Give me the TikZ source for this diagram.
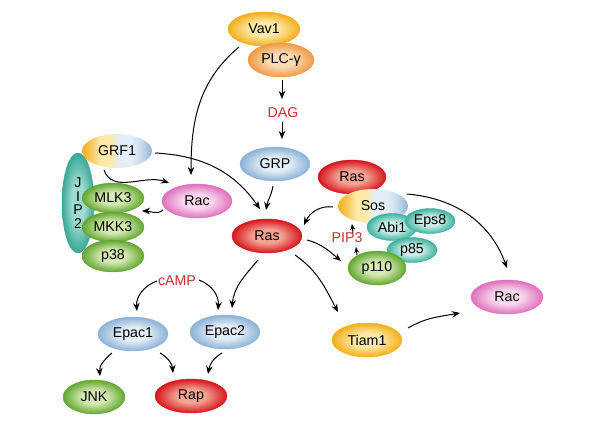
\documentclass[tikz,border=0pt]{standalone}
\usepackage{fontspec}
\setmainfont{Liberation Sans}
\usetikzlibrary{shapes.geometric,arrows.meta}
\definecolor{yelR}{HTML}{F4AE1A}\definecolor{yelC}{HTML}{FDE9A8}\definecolor{yelM}{HTML}{F8C65A}
\definecolor{orR}{HTML}{EE9A45}\definecolor{orC}{HTML}{FBDBB5}
\definecolor{bluR}{HTML}{8CB2D6}\definecolor{bluC}{HTML}{E4EEF7}\definecolor{bluM}{HTML}{C4D9EC}
\definecolor{redR}{HTML}{D7151D}\definecolor{redC}{HTML}{F3A493}
\definecolor{pinkR}{HTML}{E070BC}\definecolor{pinkC}{HTML}{F9D9EE}
\definecolor{grnR}{HTML}{62A731}\definecolor{grnC}{HTML}{D5E9B2}
\definecolor{tealR}{HTML}{3FB1A1}\definecolor{tealC}{HTML}{CDEEE7}
\definecolor{jipR}{HTML}{3AA798}\definecolor{jipC}{HTML}{9FDBD1}
\definecolor{txtred}{HTML}{D42A2F}
\colorlet{blobin}{white}\colorlet{blobout}{black}
\pgfdeclareradialshading[blobin,blobout]{blob}{\pgfpoint{0bp}{0bp}}{color(0bp)=(blobin); color(10bp)=(blobin); color(25bp)=(blobout); color(50bp)=(blobout)}
\pgfdeclarehorizontalshading{orblue}{100bp}{color(0bp)=(yelR); color(25bp)=(yelR); color(31bp)=(yelM); color(38bp)=(yelC); color(45bp)=(yelC); color(51bp)=(bluC); color(60bp)=(bluC); color(68bp)=(bluM); color(75bp)=(bluR); color(100bp)=(bluR)}
\tikzset{
  every node/.style={font=\fontsize{14.2}{16}\selectfont},
  bl/.style n args={3}{ellipse, inner sep=0pt, minimum width=#1, minimum height=#2,
    shading=blob, /utils/exec={\colorlet{blobin}{#3C}\colorlet{blobout}{#3R}},
    draw=#3R, line width=0.4pt},
  twotone/.style={ellipse, inner sep=0pt, minimum width=70, minimum height=34, shading=orblue},
  lbl/.style={text=txtred, inner sep=1pt},
  arr/.style={-{Stealth[length=8pt,width=6.5pt]}, line width=1pt},
  arrs/.style={-{Stealth[length=6pt,width=5pt]}, line width=1pt},
}
\begin{document}
\begin{tikzpicture}[x=1pt,y=1pt]
\path[use as bounding box] (0,0) rectangle (600,-423);
% nodes
\node[bl={72}{34}{yel}] (vav1) at (264,-29) {Vav1};
\node[bl={66}{34}{or}] (plc) at (281,-60) {PLC-γ};
\node[lbl] (dag) at (283,-113) {DAG};
\node[bl={70}{34}{blu}] (grp) at (275,-164) {GRP};
\node[bl={32}{100}{jip}, align=center, font=\fontsize{14.2}{13.5}\selectfont] (jip2) at (78,-203) {J\\I\\P\\2};
\node[twotone] (grf1) at (117,-151) {GRF1};
\node[bl={62}{30}{grn}] (mlk3) at (113,-198) {MLK3};
\node[bl={62}{30}{grn}] (mkk3) at (113,-227) {MKK3};
\node[bl={62}{32}{grn}] (p38) at (113,-256) {p38};
\node[bl={70}{34}{pink}] (rac1) at (197,-201) {Rac};
\node[bl={68}{34}{red}] (ras2) at (352,-177) {Ras};
\node[twotone] (sos) at (373,-206) {Sos};
\node[bl={50}{27}{teal}] (abi1) at (392,-227) {Abi1};
\node[bl={50}{25}{teal}] (eps8) at (430,-221) {Eps8};
\node[bl={50}{25}{teal}] (p85) at (412,-250) {p85};
\node[bl={58}{34}{grn}] (p110) at (377,-268) {p110};
\node[bl={70}{34}{red}] (ras) at (267,-236) {Ras};
\node[lbl] (pip3) at (347,-238) {PIP3};
\node[bl={72}{34}{pink}] (rac2) at (507,-297) {Rac};
\node[bl={70}{34}{yel}] (tiam1) at (367,-340) {Tiam1};
\node[lbl] (camp) at (177,-281) {cAMP};
\node[bl={70}{34}{blu}] (epac1) at (133,-334) {Epac1};
\node[bl={70}{34}{blu}] (epac2) at (225,-332) {Epac2};
\node[bl={62}{34}{grn}] (jnk) at (94,-397) {JNK};
\node[bl={72}{34}{red}] (rap) at (191,-396) {Rap};
% connectors
\draw[arr] ([shift={(-25,-18)}]vav1.center) to[out=-140,in=90] ([shift={(-6,26)}]rac1.center);
\draw[arr] ([shift={(1,-20)}]plc.center) -- ([shift={(-1,14)}]dag.center);
\draw[arr] ([shift={(-1,-9)}]dag.center) -- ([shift={(7,25)}]grp.center);
\draw[arr] ([shift={(-2,-22)}]grp.center) to[out=-100,in=80] ([shift={(-1,26)}]ras.center);
\draw[arr] ([shift={(38,-2)}]grf1.center) to[out=-3,in=125] ([shift={(-7,27)}]ras.center);
\draw[arr] ([shift={(-13,-19)}]grf1.center) to[out=-70,in=160] ([shift={(-28,18)}]rac1.center);
\draw[arr] ([shift={(-34,-9)}]rac1.center) to[out=-140,in=0] ([shift={(29,-13)}]mlk3.center);
\draw[arr] ([shift={(-40,-1)}]sos.center) to[out=172,in=65] ([shift={(37,11)}]ras.center);
\draw[arr] ([shift={(40,-4)}]ras.center) to[out=-15,in=140] ([shift={(-36,7)}]p110.center);
\draw[arrs] ([shift={(-20,13)}]p110.center) -- ([shift={(9,-9)}]pip3.center);
\draw[arrs] ([shift={(6,5)}]pip3.center) -- ([shift={(-21,-18)}]sos.center);
\draw[arr] ([shift={(28,-19)}]ras.center) to[out=-35,in=118] ([shift={(-29,28)}]tiam1.center);
\draw[arr] ([shift={(41,12)}]tiam1.center) to[out=30,in=190] ([shift={(-47,-16)}]rac2.center);
\draw[arr] ([shift={(34,12)}]sos.center) to[out=-5,in=110] ([shift={(0,29)}]rac2.center);
\draw[arr] ([shift={(-9,-24)}]ras.center) to[out=-130,in=85] ([shift={(7,24)}]epac2.center);
\draw[arr] ([shift={(-20,0)}]camp.center) to[out=200,in=95] ([shift={(4,23)}]epac1.center);
\draw[arr] ([shift={(22,1)}]camp.center) to[out=-20,in=85] ([shift={(-7,22)}]epac2.center);
\draw[arr] ([shift={(-21,-19)}]epac1.center) to[out=-140,in=95] ([shift={(6,21)}]jnk.center);
\draw[arr] ([shift={(27,-19)}]epac1.center) to[out=-30,in=95] ([shift={(-18,23)}]rap.center);
\draw[arr] ([shift={(-3,-21)}]epac2.center) to[out=-150,in=80] ([shift={(17,22)}]rap.center);
\end{tikzpicture}
\end{document}
